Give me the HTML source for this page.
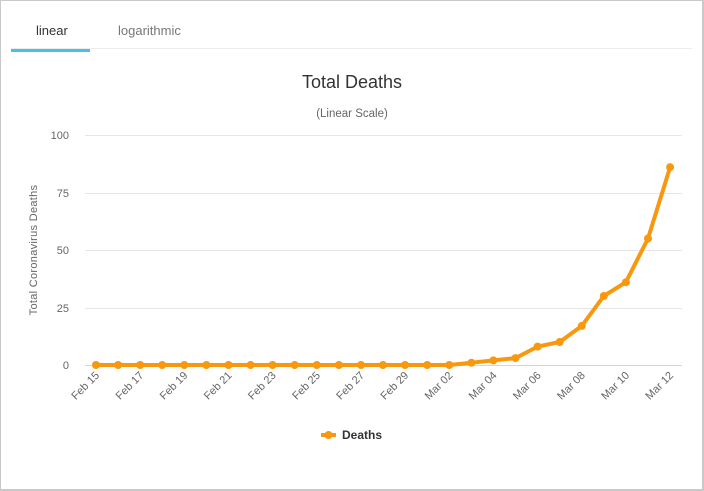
<!DOCTYPE html>
<html><head><meta charset="utf-8"><style>
html,body{margin:0;padding:0;background:#fff;}
body{width:704px;height:491px;overflow:hidden;font-family:"Liberation Sans","DejaVu Sans",sans-serif;}
.frame{position:absolute;left:0;top:0;width:701px;height:488px;border:1px solid #c9c9c9;border-right-width:2px;border-bottom-width:2px;}
</style></head><body>
<div class="frame"></div>
<svg width="704" height="491" style="position:absolute;left:0;top:0" font-family="Liberation Sans, DejaVu Sans, sans-serif">
  <!-- tabs -->
  <text x="36" y="35" font-size="13" fill="#333">linear</text>
  <text x="118" y="35" font-size="13" fill="#777">logarithmic</text>
  <line x1="11" y1="48.5" x2="692" y2="48.5" stroke="#ececec" stroke-width="1"/>
  <rect x="11" y="49" width="79" height="3" fill="#41c3ea"/>
  <!-- titles -->
  <text x="352" y="88" font-size="18" fill="#333" text-anchor="middle">Total Deaths</text>
  <text x="352" y="117" font-size="11.5" fill="#666" text-anchor="middle">(Linear Scale)</text>
  <!-- grid -->
  <g stroke="#e6e6e6" stroke-width="1">
    <line x1="85" y1="135.5" x2="682" y2="135.5"/>
    <line x1="85" y1="193.5" x2="682" y2="193.5"/>
    <line x1="85" y1="250.5" x2="682" y2="250.5"/>
    <line x1="85" y1="308.5" x2="682" y2="308.5"/>
  </g>
  <line x1="85" y1="365.5" x2="682" y2="365.5" stroke="#ccd6eb" stroke-width="1"/>
  <!-- y labels -->
  <g font-size="11" fill="#666" text-anchor="end">
    <text x="69" y="139">100</text>
    <text x="69" y="197">75</text>
    <text x="69" y="254">50</text>
    <text x="69" y="312">25</text>
    <text x="69" y="369">0</text>
  </g>
  <text transform="translate(37,250) rotate(-90)" font-size="11" fill="#666" text-anchor="middle" letter-spacing="0.3">Total Coronavirus Deaths</text>
  <!-- x labels -->
  <g font-size="11" fill="#666" text-anchor="end">
    <text transform="translate(100,376) rotate(-45)">Feb 15</text>
    <text transform="translate(144.2,376) rotate(-45)">Feb 17</text>
    <text transform="translate(188.3,376) rotate(-45)">Feb 19</text>
    <text transform="translate(232.5,376) rotate(-45)">Feb 21</text>
    <text transform="translate(276.6,376) rotate(-45)">Feb 23</text>
    <text transform="translate(320.8,376) rotate(-45)">Feb 25</text>
    <text transform="translate(364.9,376) rotate(-45)">Feb 27</text>
    <text transform="translate(409.1,376) rotate(-45)">Feb 29</text>
    <text transform="translate(453.3,376) rotate(-45)">Mar 02</text>
    <text transform="translate(497.4,376) rotate(-45)">Mar 04</text>
    <text transform="translate(541.6,376) rotate(-45)">Mar 06</text>
    <text transform="translate(585.7,376) rotate(-45)">Mar 08</text>
    <text transform="translate(629.9,376) rotate(-45)">Mar 10</text>
    <text transform="translate(674,376) rotate(-45)">Mar 12</text>
  </g>
  <!-- series -->
  <g fill="#f7980f" stroke="#f7980f">
    <polyline fill="none" stroke-width="4" stroke-linejoin="round" stroke-linecap="round" points="96,365 118.1,365 140.2,365 162.2,365 184.3,365 206.4,365 228.5,365 250.6,365 272.6,365 294.7,365 316.8,365 338.9,365 361,365 383,365 405.1,365 427.2,365 449.3,365 471.4,362.7 493.4,360.4 515.5,358.1 537.6,346.6 559.7,342 581.8,325.9 603.8,296 625.9,282.2 648,238.5 670.1,167.2"/>
    <g stroke="none">
      <circle cx="96" cy="365" r="4"/><circle cx="118.1" cy="365" r="4"/><circle cx="140.2" cy="365" r="4"/><circle cx="162.2" cy="365" r="4"/><circle cx="184.3" cy="365" r="4"/><circle cx="206.4" cy="365" r="4"/><circle cx="228.5" cy="365" r="4"/><circle cx="250.6" cy="365" r="4"/><circle cx="272.6" cy="365" r="4"/><circle cx="294.7" cy="365" r="4"/><circle cx="316.8" cy="365" r="4"/><circle cx="338.9" cy="365" r="4"/><circle cx="361" cy="365" r="4"/><circle cx="383" cy="365" r="4"/><circle cx="405.1" cy="365" r="4"/><circle cx="427.2" cy="365" r="4"/><circle cx="449.3" cy="365" r="4"/><circle cx="471.4" cy="362.7" r="4"/><circle cx="493.4" cy="360.4" r="4"/><circle cx="515.5" cy="358.1" r="4"/><circle cx="537.6" cy="346.6" r="4"/><circle cx="559.7" cy="342" r="4"/><circle cx="581.8" cy="325.9" r="4"/><circle cx="603.8" cy="296" r="4"/><circle cx="625.9" cy="282.2" r="4"/><circle cx="648" cy="238.5" r="4"/><circle cx="670.1" cy="167.2" r="4"/>
    </g>
  </g>
  <!-- legend -->
  <line x1="321" y1="435" x2="336" y2="435" stroke="#f7980f" stroke-width="4"/>
  <circle cx="328.5" cy="435" r="4" fill="#f7980f"/>
  <text x="342" y="439" font-size="12" font-weight="bold" fill="#333">Deaths</text>
</svg>
</body></html>
